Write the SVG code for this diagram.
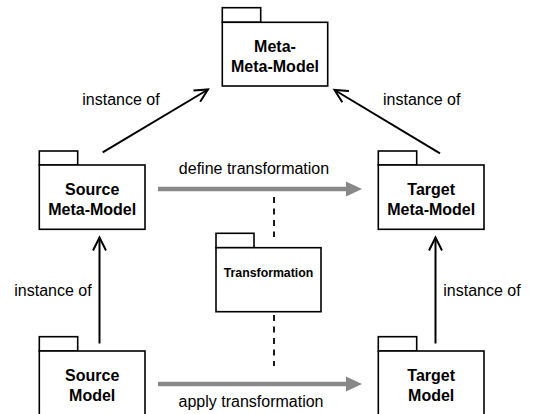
<svg xmlns="http://www.w3.org/2000/svg" width="536" height="414" viewBox="0 0 536 414">
<style>
.box{fill:#fff;stroke:#000;stroke-width:1.6}
.nt{font-family:"Liberation Sans",Arial,sans-serif;font-weight:bold;font-size:16px;text-anchor:middle;fill:#000}
.st{font-family:"Liberation Sans",Arial,sans-serif;font-weight:bold;font-size:12.3px;text-anchor:middle;fill:#000}
.lb{font-family:"Liberation Sans",Arial,sans-serif;font-size:16px;fill:#000}
.inst{fill:none;stroke:#000;stroke-width:2;marker-end:url(#open)}
.xf{fill:none;stroke:#888;stroke-width:4.5}
.dash{fill:none;stroke:#000;stroke-width:1.8;stroke-dasharray:6,5.5}
</style>
<defs>
<marker id="open" markerUnits="userSpaceOnUse" markerWidth="30" markerHeight="30" refX="0" refY="0" viewBox="-20 -15 30 30" orient="auto" overflow="visible">
<path d="M-13,-6.5 L0,0 L-13,6.5" fill="none" stroke="#000" stroke-width="2"/>
</marker>
</defs>
<g id="connectors">
<line class="inst" x1="102.7" y1="152.3" x2="208" y2="89.5"/>
<line class="inst" x1="440" y1="153.3" x2="334.5" y2="90"/>
<line class="inst" x1="99.5" y1="343.5" x2="99.5" y2="237.5"/>
<line class="inst" x1="435.5" y1="343.5" x2="435.5" y2="237.5"/>
<line class="xf" x1="158" y1="189" x2="348" y2="189"/>
<polygon points="362,189 346,181.5 346,196.5" fill="#888"/>
<line class="xf" x1="158" y1="384" x2="348" y2="384"/>
<polygon points="362,384 346,376.5 346,391.5" fill="#888"/>
<line class="dash" x1="274" y1="197" x2="274" y2="237"/>
<line class="dash" x1="274" y1="315" x2="274" y2="366"/>
<text class="lb" x="121" y="104.5" text-anchor="middle">instance of</text>
<text class="lb" x="421.7" y="104.5" text-anchor="middle">instance of</text>
<text class="lb" x="254" y="173.5" text-anchor="middle">define transformation</text>
<text class="lb" x="53" y="296" text-anchor="middle">instance of</text>
<text class="lb" x="482" y="296" text-anchor="middle">instance of</text>
<text class="lb" x="251" y="407" text-anchor="middle">apply transformation</text>
</g>
<g id="meta-meta-model">
<rect class="box" x="222.3" y="7.7" width="38.4" height="14.6"/>
<rect class="box" x="222.3" y="22.3" width="105.4" height="63.7"/>
<text class="nt" x="275" y="52">Meta-</text>
<text class="nt" x="275" y="72">Meta-Model</text>
</g>
<g id="source-meta-model">
<rect class="box" x="39.3" y="151" width="38.4" height="14"/>
<rect class="box" x="39.3" y="165" width="105.7" height="64.3"/>
<text class="nt" x="92.2" y="195">Source</text>
<text class="nt" x="92.2" y="215">Meta-Model</text>
</g>
<g id="target-meta-model">
<rect class="box" x="378.3" y="151" width="38.4" height="14"/>
<rect class="box" x="378.3" y="165" width="105.7" height="64.3"/>
<text class="nt" x="431.2" y="195">Target</text>
<text class="nt" x="431.2" y="215">Meta-Model</text>
</g>
<g id="transformation">
<rect class="box" x="216" y="233.3" width="38" height="14.4"/>
<rect class="box" x="216" y="247.7" width="105" height="64"/>
<text class="st" x="268.5" y="277">Transformation</text>
</g>
<g id="source-model">
<rect class="box" x="39.3" y="336.7" width="38.4" height="14.3"/>
<rect class="box" x="39.3" y="351" width="105.7" height="70"/>
<text class="nt" x="92.2" y="381">Source</text>
<text class="nt" x="92.2" y="401">Model</text>
</g>
<g id="target-model">
<rect class="box" x="378.3" y="336.7" width="38.4" height="14.3"/>
<rect class="box" x="378.3" y="351" width="105.7" height="70"/>
<text class="nt" x="431.2" y="381">Target</text>
<text class="nt" x="431.2" y="401">Model</text>
</g>
</svg>
